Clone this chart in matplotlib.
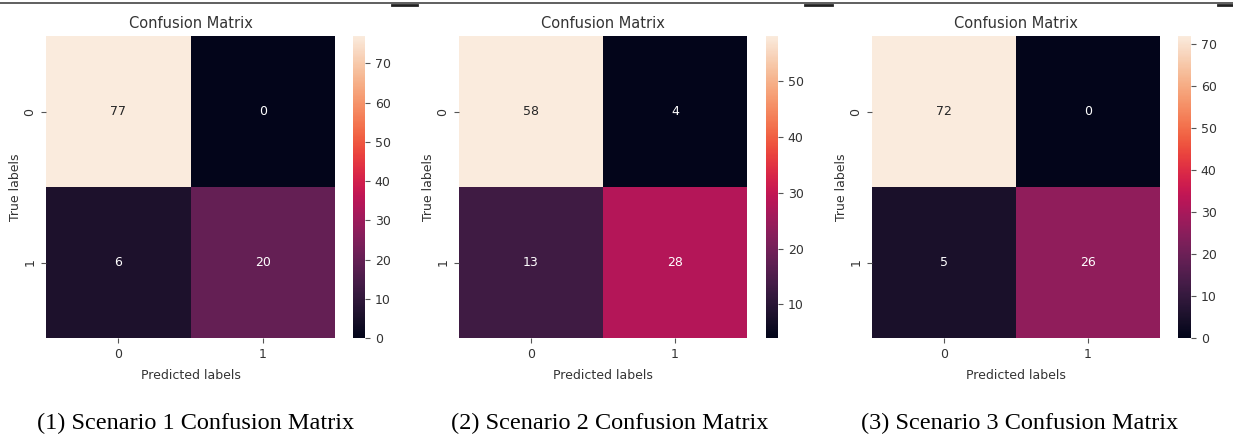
import numpy as np
import matplotlib.pyplot as plt
import seaborn as sns

# confusion matrices for the three scenarios
cm1 = np.array([[77, 0], [6, 20]])
cm2 = np.array([[58, 4], [13, 28]])
cm3 = np.array([[72, 0], [5, 26]])
matrices = [cm1, cm2, cm3]
class_labels = ['0', '1']
captions = ['(1) Scenario 1 Confusion Matrix',
            '(2) Scenario 2 Confusion Matrix',
            '(3) Scenario 3 Confusion Matrix']

W, H = 1233, 446
fig = plt.figure(figsize=(W / 100, H / 100), dpi=100)

plt.rcParams['text.color'] = '#333333'
plt.rcParams['axes.labelcolor'] = '#333333'
plt.rcParams['xtick.color'] = '#555555'
plt.rcParams['ytick.color'] = '#555555'
plt.rcParams['xtick.labelcolor'] = '#333333'
plt.rcParams['ytick.labelcolor'] = '#333333'

# pixel boxes: (heatmap left, right), (colorbar left, right)
boxes = [((46, 335), (353, 365)),
         ((459, 747), (766, 778)),
         ((872, 1160), (1178, 1191))]
top, bottom = 36, 338
caption_x = [196, 610, 1020]


def fx(px):
    return px / W


def fy(py):
    return 1 - py / H


for cm, (hm, cb), cap, cx in zip(matrices, boxes, captions, caption_x):
    ax = fig.add_axes([fx(hm[0]), fy(bottom), fx(hm[1] - hm[0]), (bottom - top) / H])
    cax = fig.add_axes([fx(cb[0]), fy(bottom), fx(cb[1] - cb[0]), (bottom - top) / H])
    sns.heatmap(cm, annot=True, fmt='d', ax=ax, cbar_ax=cax,
                xticklabels=class_labels, yticklabels=class_labels,
                annot_kws={'fontsize': 9})
    ax.set_title('Confusion Matrix', fontsize=10.5)
    ax.set_xlabel('Predicted labels', fontsize=9, labelpad=6)
    ax.set_ylabel('True labels', fontsize=9, labelpad=1)
    ax.tick_params(labelsize=9)
    cax.tick_params(labelsize=9)
    fig.text(fx(cx), fy(423), cap, ha='center', va='center',
             family='Liberation Serif', fontsize=17.5, color='black')

# rule along the top edge, as in the source page
fig.add_artist(plt.Line2D([0, 1], [fy(3), fy(3)], color='#444444', lw=1.2))
for a, b in [(392, 417), (805, 832), (1218, 1233)]:
    fig.add_artist(plt.Line2D([fx(a), fx(b)], [fy(4.5), fy(4.5)], color='#222222', lw=2))

plt.savefig('out.png', dpi=100)
